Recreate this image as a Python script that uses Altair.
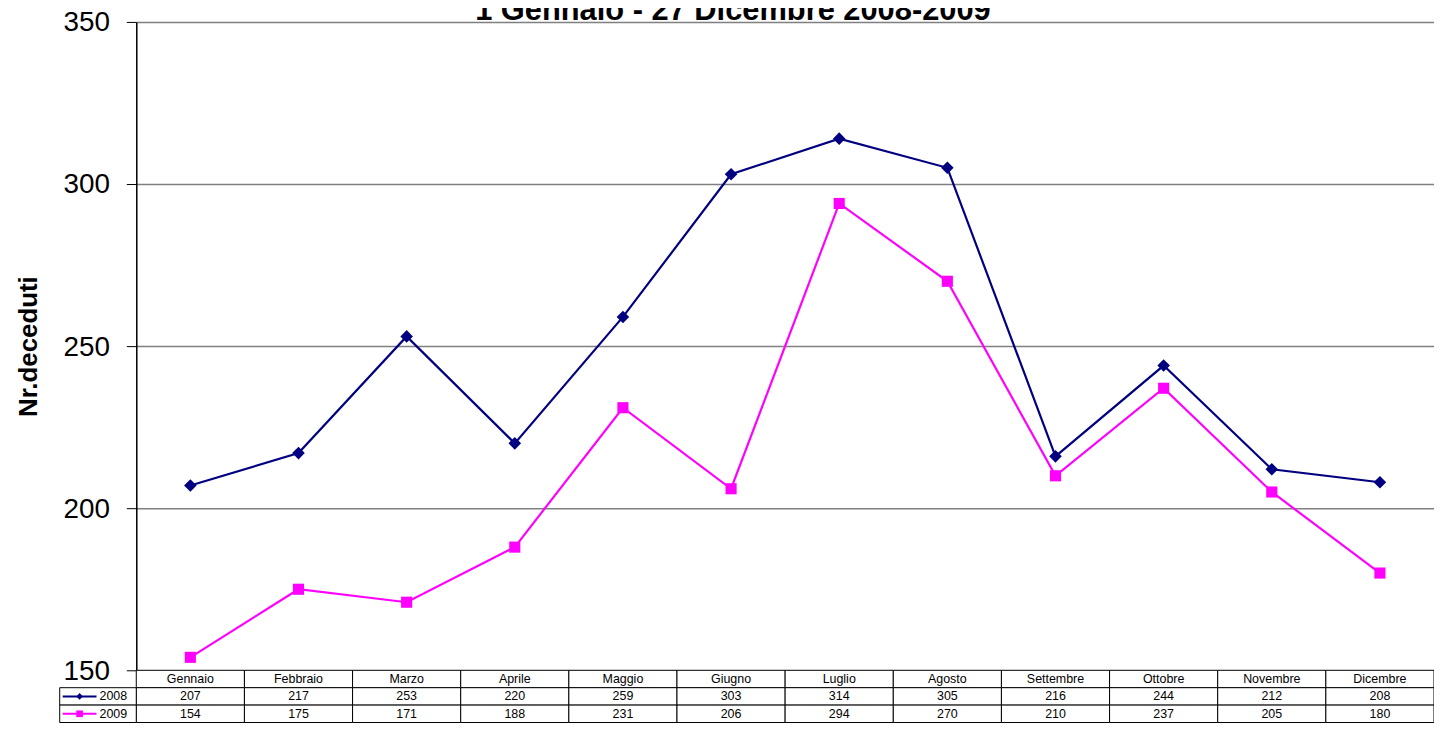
import altair as alt
import pandas as pd

# ---- data ----
months = ["Gennaio", "Febbraio", "Marzo", "Aprile", "Maggio", "Giugno",
          "Luglio", "Agosto", "Settembre", "Ottobre", "Novembre", "Dicembre"]
values_2008 = [207, 217, 253, 220, 259, 303, 314, 305, 216, 244, 212, 208]
values_2009 = [154, 175, 171, 188, 231, 206, 294, 270, 210, 237, 205, 180]
series_names = ["2008", "2009"]
table_rows = ["header", "2008", "2009"]
y_ticks = [150, 200, 250, 300, 350]
chart_title = ["1 Gennaio - 27 Dicembre 2008-2009"]

# ---- tables built from the arrays ----
line_df = pd.DataFrame({
    "mese": months * 2,
    "serie": ["2008"] * 12 + ["2009"] * 12,
    "valore": values_2008 + values_2009,
})
table_df = pd.DataFrame({
    "mese": months * 3,
    "riga": ["header"] * 12 + ["2008"] * 12 + ["2009"] * 12,
    "testo": months + [str(v) for v in values_2008] + [str(v) for v in values_2009],
})
legend_df = pd.DataFrame({"riga": series_names, "serie": series_names})
title_df = pd.DataFrame({"titolo": chart_title})

FONT = "Liberation Sans"
W, H = 1305, 652
ROW_H = 17.5

x_scale = alt.Scale(domain=months, type="band", paddingInner=0, paddingOuter=0)
y_scale = alt.Scale(domain=[150, 350], nice=False, zero=False)
color_scale = alt.Scale(domain=series_names, range=["#000080", "#FF00FF"])
shape_scale = alt.Scale(domain=series_names, range=["diamond", "square"])
row_scale = alt.Scale(domain=table_rows, range=[H, H + 3 * ROW_H],
                      paddingInner=0, paddingOuter=0)

x_center = alt.X("mese:N", scale=x_scale, axis=None, sort=months, bandPosition=0.5)
x_band = alt.X("mese:N", scale=x_scale, axis=None, sort=months)
color_enc = alt.Color("serie:N", scale=color_scale, legend=None)
shape_enc = alt.Shape("serie:N", scale=shape_scale, legend=None)

y_axis = alt.Axis(
    values=y_ticks, labelFontSize=28, labelFont=FONT, labelColor="black",
    tickSize=10, tickColor="black", tickWidth=1,
    domainColor="black", domainWidth=1.5,
    grid=True, gridColor="#808080", gridWidth=1.5,
    labelPadding=17, labelOffset=1,
    title="Nr.deceduti", titleFont=FONT, titleFontSize=26,
    titleFontWeight="bold", titleColor="black", titleAngle=270,
    titleX=-100, titleY=H / 2, titleBaseline="alphabetic", titleAlign="center",
)

lines = alt.Chart(line_df).mark_line(strokeWidth=2.2).encode(
    x=x_center,
    y=alt.Y("valore:Q", scale=y_scale, axis=y_axis),
    color=color_enc,
)
points = alt.Chart(line_df).mark_point(filled=True, opacity=1).encode(
    x=x_center,
    y=alt.Y("valore:Q", scale=y_scale, axis=None),
    color=color_enc,
    shape=shape_enc,
    size=alt.Size("serie:N", scale=alt.Scale(domain=series_names, range=[160, 125]),
                  legend=None),
)

cells = alt.Chart(table_df).mark_rect(fill="white", stroke="black", strokeWidth=1).encode(
    x=x_band,
    y=alt.Y("riga:N", scale=row_scale, axis=None, sort=table_rows),
)
cell_text = alt.Chart(table_df).mark_text(font=FONT, fontSize=12.5, color="black").encode(
    x=x_center,
    y=alt.Y("riga:N", scale=row_scale, axis=None, sort=table_rows, bandPosition=0.5),
    text="testo:N",
)

legend_cells = alt.Chart(legend_df).mark_rect(fill="white", stroke="black", strokeWidth=1).encode(
    x=alt.value(-77), x2=alt.value(0),
    y=alt.Y("riga:N", scale=row_scale, axis=None, sort=table_rows),
)
legend_lines = alt.Chart(legend_df).mark_rule(strokeWidth=2).encode(
    x=alt.value(-74), x2=alt.value(-40),
    y=alt.Y("riga:N", scale=row_scale, axis=None, sort=table_rows, bandPosition=0.5),
    color=color_enc,
)
legend_marks = alt.Chart(legend_df).mark_point(filled=True, opacity=1, size=45).encode(
    x=alt.value(-57),
    y=alt.Y("riga:N", scale=row_scale, axis=None, sort=table_rows, bandPosition=0.5),
    color=color_enc,
    shape=shape_enc,
)
legend_text = alt.Chart(legend_df).mark_text(font=FONT, fontSize=12.5, color="black",
                                              align="left").encode(
    x=alt.value(-37),
    y=alt.Y("riga:N", scale=row_scale, axis=None, sort=table_rows, bandPosition=0.5),
    text="riga:N",
)

title_mark = alt.Chart(title_df).mark_text(
    font=FONT, fontSize=31, fontWeight="bold", color="black",
    align="center", baseline="alphabetic",
).encode(
    text="titolo:N",
    x=alt.value(600),
    y=alt.value(-2),
)

chart = alt.layer(
    cells, cell_text, legend_cells, legend_lines, legend_marks, legend_text,
    lines, points, title_mark,
).resolve_scale(y="independent").properties(
    width=W, height=H,
    autosize=alt.AutoSizeParams(type="none"),
    padding={"left": 129, "top": 12, "right": 0, "bottom": 53},
).configure_view(stroke=None).configure(background="white")

chart.save("out.html", embed_options={"renderer": "svg", "actions": False})
